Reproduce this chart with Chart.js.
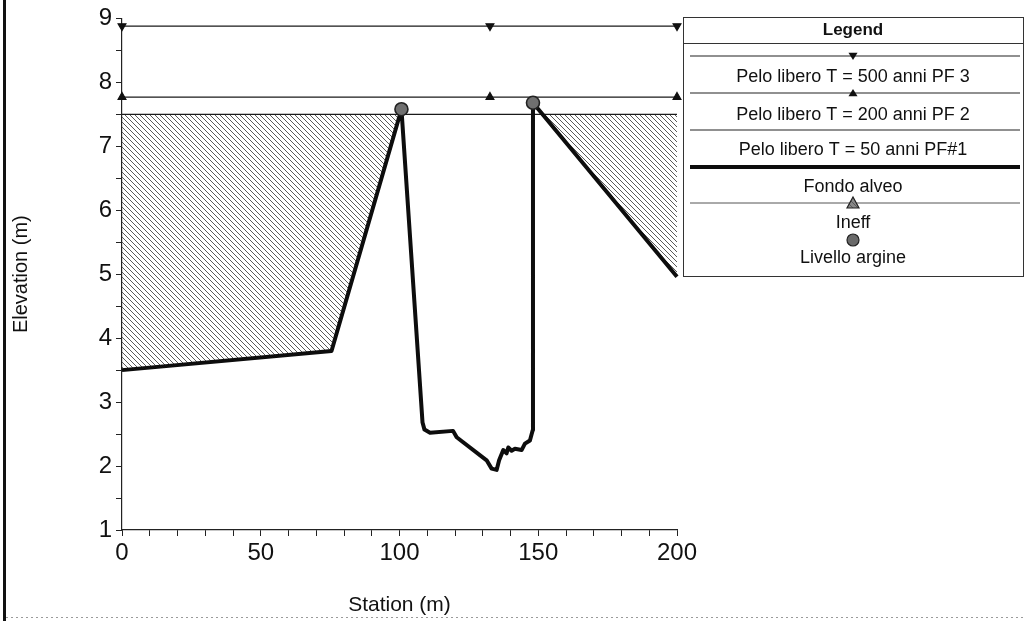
<!DOCTYPE html>
<html>
<head>
<meta charset="utf-8">
<script src="https://cdn.jsdelivr.net/npm/chart.js@4.4.1/dist/chart.umd.min.js"></script>
<style>
html,body{margin:0;padding:0;background:#fff;}
#wrap{width:1026px;height:621px;position:relative;}
canvas{display:block;}
</style>
</head>
<body>
<div id="wrap"><canvas id="c" width="1026" height="621"></canvas></div>
<script>
// ---- Data ----
const groundStation = [0, 75.5, 100.7, 108.3, 109.0, 111.0, 119.3, 120.6, 131.4, 133.2, 135.0, 135.9, 137.4, 138.6, 139.2, 140.4, 141.6, 144.0, 145.2, 147.0, 148.0, 148.1, 200];
const groundElev    = [3.50, 3.80, 7.58, 2.68, 2.57, 2.52, 2.55, 2.45, 2.09, 1.96, 1.94, 2.09, 2.25, 2.20, 2.29, 2.24, 2.27, 2.25, 2.35, 2.40, 2.56, 7.68, 4.96];

const wsMarkerStations = [0, 132.6, 200];
const ws500 = 8.88;
const ws200 = 7.77;
const ws50  = 7.50;

const leveeStation = [100.7, 148.1];
const leveeElev    = [7.58, 7.68];

const ineffStart = [0, 151.5];
const ineffEnd   = [100.2, 200];
const ineffElev  = [7.5, 7.5];

const seriesLabels = [
  'Pelo libero T = 500 anni PF 3',
  'Pelo libero T = 200 anni PF 2',
  'Pelo libero T = 50 anni PF#1',
  'Fondo alveo',
  'Ineff',
  'Livello argine'
];

const xTicks = [0, 50, 100, 150, 200];
const yTicks = [1, 2, 3, 4, 5, 6, 7, 8, 9];

// ---- Build datasets ----
const FONT = '"Liberation Sans", Arial, Helvetica, sans-serif';
const ground = groundStation.map((s, i) => ({x: s, y: groundElev[i]}));

function hatchPattern() {
  const s = 5;
  const c = document.createElement('canvas');
  c.width = s; c.height = s;
  const g = c.getContext('2d');
  g.strokeStyle = '#5a5a5a';
  g.lineWidth = 1;
  g.beginPath();
  g.moveTo(0, 0); g.lineTo(s, s);
  g.moveTo(-1, s - 1); g.lineTo(1, s + 1);
  g.moveTo(s - 1, -1); g.lineTo(s + 1, 1);
  g.stroke();
  return document.getElementById('c').getContext('2d').createPattern(c, 'repeat');
}
const HATCH = hatchPattern();

function ineffPolygon(k) {
  const pts = [{x: ineffStart[k], y: ineffElev[k]}, {x: ineffEnd[k], y: ineffElev[k]}];
  const below = ground.filter(p => p.x >= ineffStart[k] && p.x <= ineffEnd[k]).reverse();
  below.forEach(p => pts.push(p));
  pts.push({x: ineffStart[k], y: ineffElev[k]});
  return pts;
}

const datasets = [];
ineffStart.forEach((_, k) => {
  datasets.push({
    label: seriesLabels[4], data: ineffPolygon(k), fill: 'shape',
    backgroundColor: HATCH, borderWidth: 0, pointRadius: 0, order: 6
  });
});
datasets.push({
  label: seriesLabels[0], data: wsMarkerStations.map(s => ({x: s, y: ws500})),
  borderColor: '#1a1a1a', borderWidth: 1.2, pointStyle: 'triangle', rotation: 180,
  pointRadius: 4.5, pointBackgroundColor: '#111', pointBorderColor: '#111', order: 3, clip: false
});
datasets.push({
  label: seriesLabels[1], data: wsMarkerStations.map(s => ({x: s, y: ws200})),
  borderColor: '#1a1a1a', borderWidth: 1.2, pointStyle: 'triangle',
  pointRadius: 4.5, pointBackgroundColor: '#111', pointBorderColor: '#111', order: 3, clip: false
});
datasets.push({
  label: seriesLabels[2], data: [{x: 0, y: ws50}, {x: 200, y: ws50}],
  borderColor: '#1a1a1a', borderWidth: 1.2, pointRadius: 0, order: 3
});
datasets.push({
  label: seriesLabels[3], data: ground,
  borderColor: '#0d0d0d', borderWidth: 4, pointRadius: 0, borderJoinStyle: 'round', order: 1, clip: false
});
datasets.push({
  label: seriesLabels[5], data: leveeStation.map((s, i) => ({x: s, y: leveeElev[i]})),
  showLine: false, pointStyle: 'circle', pointRadius: 6.5,
  pointBackgroundColor: '#707070', pointBorderColor: '#222', pointBorderWidth: 1.6, order: 0, clip: false
});

// ---- Custom legend + scan frame ----
const legendPlugin = {
  id: 'hecLegend',
  afterDraw(chart) {
    const ctx = chart.ctx;
    ctx.save();
    // scan frame
    ctx.fillStyle = '#111';
    ctx.fillRect(3, 0, 3, 621);
    ctx.strokeStyle = '#9a9a9a';
    ctx.setLineDash([2, 3]);
    ctx.lineWidth = 1;
    ctx.beginPath(); ctx.moveTo(6, 617.5); ctx.lineTo(1026, 617.5); ctx.stroke();
    ctx.setLineDash([]);

    const L = 683, R = 1023, T = 17, B = 276, cx = (L + R) / 2;
    const sL = 690, sR = 1020;
    ctx.strokeStyle = '#333';
    ctx.lineWidth = 1;
    ctx.strokeRect(L + 0.5, T + 0.5, R - L, B - T);
    ctx.beginPath(); ctx.moveTo(L, 43.5); ctx.lineTo(R, 43.5); ctx.stroke();

    ctx.fillStyle = '#111';
    ctx.textAlign = 'center';
    ctx.textBaseline = 'middle';
    ctx.font = 'bold 17px ' + FONT;
    ctx.fillText('Legend', cx, 30);

    function line(y, w, color) {
      ctx.strokeStyle = color; ctx.lineWidth = w;
      ctx.beginPath(); ctx.moveTo(sL, y); ctx.lineTo(sR, y); ctx.stroke();
    }
    function tri(x, y, down, fill) {
      const r = 4.5;
      ctx.beginPath();
      if (down) { ctx.moveTo(x - r, y - r * 0.7); ctx.lineTo(x + r, y - r * 0.7); ctx.lineTo(x, y + r * 0.9); }
      else { ctx.moveTo(x - r, y + r * 0.7); ctx.lineTo(x + r, y + r * 0.7); ctx.lineTo(x, y - r * 0.9); }
      ctx.closePath();
      ctx.fillStyle = fill; ctx.fill();
    }
    const sampleY = [56, 93, 130, 167, 203, 240];
    const labelY  = [77, 115, 150, 187, 223, 258];
    line(sampleY[0], 1.2, '#222'); tri(cx, sampleY[0], true, '#111');
    line(sampleY[1], 1.2, '#222'); tri(cx, sampleY[1], false, '#111');
    line(sampleY[2], 1.2, '#222');
    line(sampleY[3], 4, '#0d0d0d');
    line(sampleY[4], 1, '#555');
    ctx.beginPath();
    ctx.moveTo(cx - 6, sampleY[4] + 5); ctx.lineTo(cx + 6, sampleY[4] + 5); ctx.lineTo(cx, sampleY[4] - 6);
    ctx.closePath();
    ctx.fillStyle = '#888'; ctx.fill();
    ctx.fillStyle = HATCH; ctx.fill();
    ctx.strokeStyle = '#222'; ctx.lineWidth = 1.2; ctx.stroke();
    ctx.beginPath(); ctx.arc(cx, sampleY[5], 6, 0, Math.PI * 2);
    ctx.fillStyle = '#6a6a6a'; ctx.fill();
    ctx.strokeStyle = '#222'; ctx.lineWidth = 1.2; ctx.stroke();

    ctx.fillStyle = '#111';
    ctx.font = '18px ' + FONT;
    seriesLabels.forEach((t, i) => ctx.fillText(t, cx, labelY[i]));
    ctx.restore();
  }
};

new Chart(document.getElementById('c'), {
  type: 'line',
  data: {datasets},
  options: {
    responsive: false,
    animation: false,
    devicePixelRatio: 1,
    layout: {padding: {top: 17, right: 349, left: 0, bottom: 0}},
    elements: {line: {tension: 0}},
    plugins: {legend: {display: false}, tooltip: {enabled: false}},
    scales: {
      x: {
        type: 'linear', min: 0, max: 200,
        ticks: {
          stepSize: 10, autoSkip: false, maxRotation: 0, padding: 3, color: '#111',
          font: {family: FONT, size: 24},
          callback: v => xTicks.includes(v) ? String(v) : ''
        },
        grid: {drawOnChartArea: false, drawTicks: true, tickLength: 6, tickColor: '#222'},
        border: {color: '#222', width: 1.2},
        title: {display: true, text: 'Station (m)', color: '#111', font: {family: FONT, size: 21}, padding: {top: 0, bottom: 3}},
        afterFit(s) { s.height = 91; }
      },
      y: {
        type: 'linear', min: 1, max: 9,
        ticks: {
          stepSize: 0.5, autoSkip: false, padding: 4, color: '#111',
          font: {family: FONT, size: 24},
          callback: v => yTicks.includes(v) ? String(v) : ''
        },
        grid: {drawOnChartArea: false, drawTicks: true, tickLength: 6, tickColor: '#222'},
        border: {color: '#222', width: 1.2},
        title: {display: true, text: 'Elevation (m)', color: '#111', font: {family: FONT, size: 20}, padding: {top: 9, bottom: 0}},
        afterFit(s) { s.width = 122; }
      }
    }
  },
  plugins: [legendPlugin]
});
</script>
</body>
</html>
